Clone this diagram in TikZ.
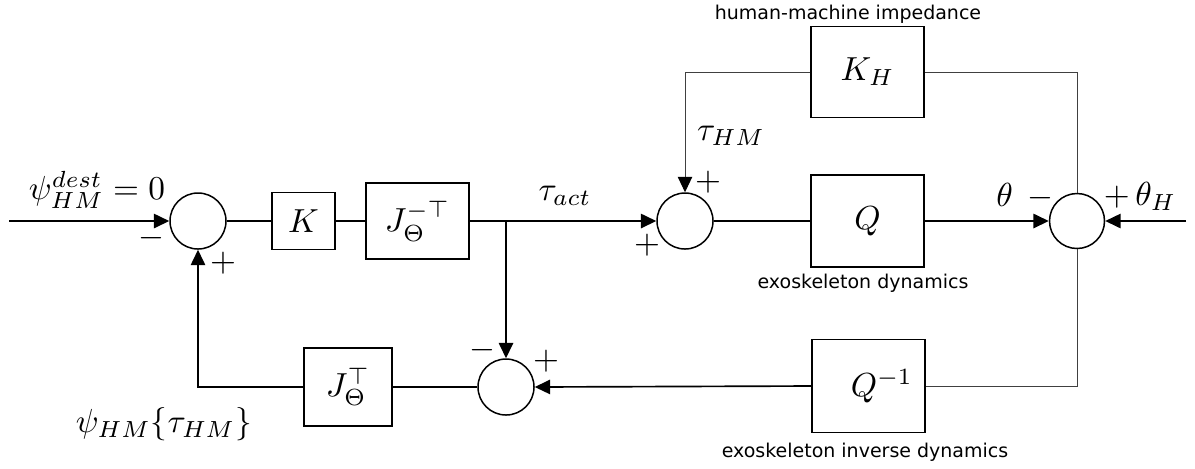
\documentclass[tikz,border=0pt]{standalone}
\usepackage{fontspec}
\newfontfamily\labelfont{DejaVu Sans}
\usetikzlibrary{arrows.meta}
\begin{document}
\begin{tikzpicture}[x=0.3pt,y=-0.3pt,
  blk/.style={draw,line width=0.4pt,inner sep=0pt,minimum width=#1},
  sumj/.style={draw,circle,line width=0.45pt,inner sep=0pt,minimum size=16.8pt},
  sig/.style={line width=0.5pt},
  fineline/.style={line width=0.3pt,draw=black!75},
  arr/.style={-{Triangle[length=4.6pt,width=4.3pt,black]}},
  captxt/.style={font=\labelfont\fontsize{5.7}{6.8}\selectfont},
  lbl/.style={inner sep=0pt}]
\useasboundingbox (0,0) rectangle (1195,468);

% forward path
\coordinate (in) at (9,221);
\node[sumj] (s1) at (198,221) {};
\node[blk=18.9pt,minimum height=17.1pt] (k) at (303.5,221) {$K$};
\node[blk=30.9pt,minimum height=22.8pt] (jinv) at (417.5,221) {$J_\Theta^{-\top}$};
\coordinate (br) at (506,221);
\node[sumj] (s2) at (685,221) {};
\node[blk=33.9pt,minimum height=27.6pt] (q) at (867.5,221) {$Q$};
\node[blk=33.9pt,minimum height=27.3pt] (kh) at (867.5,72) {$K_H$};
\node[sumj,minimum size=16.5pt] (s3) at (1077,221) {};
\coordinate (thetain) at (1186,221);

% feedback path
\node[blk=33.9pt,minimum height=27.9pt] (qinv) at (868.5,386) {\hspace*{8pt}$Q^{-1}$};
\node[sumj] (s4) at (506,387) {};
\node[blk=26.4pt,minimum height=23.4pt] (jt) at (348,387) {$J_\Theta^{\top}$};

% connectors
\draw[sig,arr] (in) -- (s1.west);
\draw[sig] (s1.east) -- (k.west);
\draw[sig] (k.east) -- (jinv.west);
\draw[sig,arr] (jinv.east) -- (s2.west);
\draw[sig,arr] (br) -- (s4.north);
\draw[sig] (s2.east) -- (q.west);
\draw[sig,arr] (q.east) -- (s3.west);
\draw[sig,arr] (thetain) -- (s3.east);
\draw[fineline] (kh.east) -| (s3.north);
\draw[fineline,arr] (kh.west) -| (s2.north);
\draw[fineline] (s3.south) |- (qinv.east);
\draw[sig,arr] (qinv.west) -- (s4.east);
\draw[sig] (s4.west) -- (jt.east);
\draw[sig,arr] (jt.west) -| (s1.south);

% signal labels
\node[lbl] (psid) at (97,190) {$\psi_{HM}^{dest}=0$};
\node[lbl] (m1) at (151,238) {$-$};
\node[lbl] (p1) at (223,263) {$+$};
\node[lbl] (tact) at (565,196) {$\tau_{act}$};
\node[lbl] (p2a) at (708,182) {$+$};
\node[lbl] (p2b) at (647,245) {$+$};
\node[lbl] (thm) at (731,136) {$\tau_{HM}$};
\node[lbl] (th) at (1025,196) {$\theta\;\,-$};
\node[lbl] (thh) at (1140,196) {$+\,\theta_H$};
\node[lbl] (m4) at (482,350) {$-$};
\node[lbl] (p4) at (546,361) {$+$};
\node[lbl] (psi) at (164,424) {$\psi_{HM}\{\tau_{HM}\}$};

% block captions
\node[captxt,lbl] (ckh) at (848,14) {human-machine impedance};
\node[captxt,lbl] (cq) at (863,283) {exoskeleton dynamics};
\node[captxt,lbl] (cqi) at (865,452) {exoskeleton inverse dynamics};
\end{tikzpicture}
\end{document}
